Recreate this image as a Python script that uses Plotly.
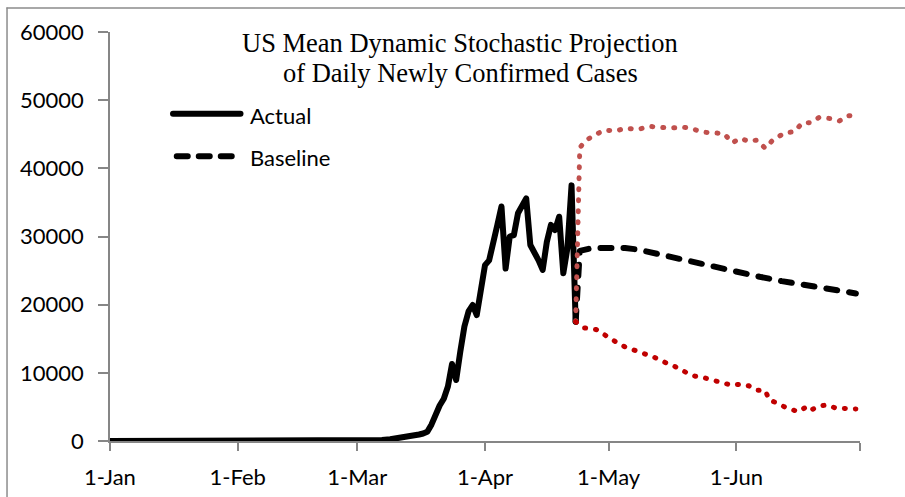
import plotly.graph_objects as go

# ---- data -------------------------------------------------------------
actual_dates = [
    "2020-01-01", "2020-01-22", "2020-02-01", "2020-02-15", "2020-03-01",
    "2020-03-03", "2020-03-05", "2020-03-07", "2020-03-09", "2020-03-11",
    "2020-03-13", "2020-03-14", "2020-03-15", "2020-03-16", "2020-03-17",
    "2020-03-18", "2020-03-19", "2020-03-20", "2020-03-21", "2020-03-22",
    "2020-03-23", "2020-03-24", "2020-03-25", "2020-03-26", "2020-03-27",
    "2020-03-28", "2020-03-29", "2020-03-30", "2020-03-31", "2020-04-01",
    "2020-04-02", "2020-04-03", "2020-04-04", "2020-04-05", "2020-04-06",
    "2020-04-07", "2020-04-08", "2020-04-09", "2020-04-10", "2020-04-11",
    "2020-04-12", "2020-04-13", "2020-04-14", "2020-04-15", "2020-04-16",
    "2020-04-17", "2020-04-18", "2020-04-19", "2020-04-20", "2020-04-21",
    "2020-04-22", "2020-04-23",
]
actual_cases = [
    0, 1, 1, 2, 20,
    50, 80, 150, 250, 400,
    550, 650, 800, 950, 1100,
    1350, 2400, 4100, 5200, 6200,
    8000, 11300, 8950, 13100, 16800,
    19000, 19950, 18480, 22150, 25800,
    26500, 28750, 31700, 34400, 25300,
    30000, 30200, 33400, 34400, 35600,
    28750, 27800, 26500, 25100, 29200,
    31700, 30950, 32900, 24600, 28300,
    37500, 17500,
]

baseline_dates = [
    "2020-04-23", "2020-04-24", "2020-04-27", "2020-05-01", "2020-05-05",
    "2020-05-08", "2020-05-13", "2020-05-18", "2020-05-23", "2020-05-28",
    "2020-06-02", "2020-06-07", "2020-06-12", "2020-06-17", "2020-06-22",
    "2020-06-27", "2020-06-30",
]
baseline_cases = [
    17500, 27900, 28300, 28400, 28300,
    28100, 27400, 26650, 26000, 25300,
    24600, 24050, 23450, 22900, 22400,
    21900, 21650,
]

upper_dates = [
    "2020-04-23", "2020-04-24", "2020-04-25", "2020-04-26", "2020-04-28",
    "2020-04-30", "2020-05-03", "2020-05-05", "2020-05-08", "2020-05-11",
    "2020-05-13", "2020-05-16", "2020-05-19", "2020-05-21", "2020-05-24",
    "2020-05-27", "2020-05-29", "2020-05-31", "2020-06-02", "2020-06-04",
    "2020-06-06", "2020-06-08", "2020-06-10", "2020-06-13", "2020-06-15",
    "2020-06-17", "2020-06-19", "2020-06-21", "2020-06-24", "2020-06-26",
    "2020-06-28", "2020-06-30",
]
upper_cases = [
    17500, 43000, 43800, 44300, 45000,
    45600, 45500, 45900, 45700, 46150,
    46050, 45900, 46050, 45850, 45300,
    45150, 45100, 43750, 44400, 43950,
    44150, 42950, 44250, 45250, 45350,
    46650, 46700, 47450, 47300, 46950,
    47700, 47800,
]

lower_dates = [
    "2020-04-23", "2020-04-25", "2020-04-28", "2020-04-30", "2020-05-03",
    "2020-05-05", "2020-05-08", "2020-05-10", "2020-05-12", "2020-05-15",
    "2020-05-17", "2020-05-20", "2020-05-22", "2020-05-24", "2020-05-26",
    "2020-05-29", "2020-05-31", "2020-06-02", "2020-06-04", "2020-06-06",
    "2020-06-08", "2020-06-09", "2020-06-11", "2020-06-13", "2020-06-16",
    "2020-06-18", "2020-06-19", "2020-06-21", "2020-06-23", "2020-06-25",
    "2020-06-28", "2020-06-30",
]
lower_cases = [
    17500, 16600, 16350, 15550, 14450,
    13800, 13200, 12850, 12300, 11450,
    10950, 10000, 9500, 9300, 9000,
    8400, 8150, 8350, 8100, 7450,
    7400, 6000, 5550, 4900, 4300,
    5000, 4500, 5100, 5300, 4850,
    4750, 4700,
]

month_ticks = ["2020-01-01", "2020-02-01", "2020-03-01", "2020-04-01",
               "2020-05-01", "2020-06-01", "2020-07-01"]
month_labels = ["1-Jan", "1-Feb", "1-Mar", "1-Apr", "1-May", "1-Jun", ""]
y_ticks = [0, 10000, 20000, 30000, 40000, 50000, 60000]
y_labels = ["0", "10000", "20000", "30000", "40000", "50000", "60000"]

title_lines = ["US Mean Dynamic Stochastic Projection",
               "of Daily Newly Confirmed Cases"]
legend_names = ["Actual", "Baseline"]

# ---- figure -----------------------------------------------------------
AXIS_GREY = "#868686"
LABEL_FONT = dict(family="Lato, 'Open Sans', Arial, sans-serif", size=22, color="#000000")

fig = go.Figure()
fig.add_trace(go.Scatter(x=actual_dates, y=actual_cases, mode="lines",
                         name=legend_names[0],
                         line=dict(color="#000000", width=6)))
fig.add_trace(go.Scatter(x=baseline_dates, y=baseline_cases, mode="lines",
                         name=legend_names[1],
                         line=dict(color="#000000", width=6, dash="11px,12px")))
fig.add_trace(go.Scatter(x=upper_dates, y=upper_cases, mode="lines",
                         name="Upper",
                         line=dict(color="#C0504D", width=5, dash="1px,10px")))
fig.add_trace(go.Scatter(x=lower_dates, y=lower_cases, mode="lines",
                         name="Lower",
                         line=dict(color="#C00000", width=5, dash="1px,10px")))

fig.update_layout(
    width=905, height=497,
    margin=dict(l=110, r=45, t=32, b=56, autoexpand=False),
    paper_bgcolor="#ffffff", plot_bgcolor="#ffffff",
    showlegend=False,
    hovermode=False,
)

fig.update_xaxes(
    type="date",
    range=["2020-01-01", "2020-07-01"],
    tickmode="array", tickvals=month_ticks, ticktext=month_labels,
    showline=True, linecolor=AXIS_GREY, linewidth=1.5,
    ticks="outside", ticklen=8, tickwidth=1.5, tickcolor=AXIS_GREY,
    ticklabelstandoff=8,
    tickfont=LABEL_FONT,
    showgrid=False, zeroline=False, automargin=False,
)
fig.update_yaxes(
    range=[0, 60000],
    tickmode="array", tickvals=y_ticks, ticktext=y_labels,
    showline=True, linecolor=AXIS_GREY, linewidth=1.5,
    ticks="outside", ticklen=10, tickwidth=1.5, tickcolor=AXIS_GREY,
    ticklabelstandoff=10,
    tickfont=LABEL_FONT,
    showgrid=False, zeroline=False, automargin=False,
)

# chart title (two centred lines, serif)
title_font = dict(family="'Liberation Serif', 'Times New Roman', serif", size=26.5, color="#000000")
for text, ypos in zip(title_lines, [0.9731, 0.8998]):
    fig.add_annotation(text=text, xref="paper", yref="paper", x=0.467, y=ypos,
                       xanchor="center", yanchor="middle", showarrow=False,
                       font=title_font)

# legend drawn inside the plot area
fig.add_shape(type="line", xref="paper", yref="paper",
              x0=0.084, x1=0.174, y0=0.8, y1=0.8,
              line=dict(color="#000000", width=6))
fig.add_shape(type="line", xref="paper", yref="paper",
              x0=0.089, x1=0.163, y0=0.696, y1=0.696,
              line=dict(color="#000000", width=6, dash="11px,11px"))
for text, ypos in zip(legend_names, [0.797, 0.694]):
    fig.add_annotation(text=text, xref="paper", yref="paper", x=0.184, y=ypos,
                       xanchor="left", yanchor="middle", showarrow=False,
                       font=LABEL_FONT)

# outer chart frame (top and left edges)
fig.add_shape(type="line", xref="paper", yref="paper",
              x0=-0.1373, x1=1.1, y0=1.0587, y1=1.0587,
              line=dict(color="#8c8c8c", width=1.5))
fig.add_shape(type="line", xref="paper", yref="paper",
              x0=-0.1373, x1=-0.1373, y0=1.0587, y1=-0.2,
              line=dict(color="#8c8c8c", width=1.5))

round_caps = """
document.querySelectorAll('.scatterlayer path.js-line').forEach(function(p){
  p.style.strokeLinecap = 'round'; p.style.strokeLinejoin = 'round';
});
document.querySelectorAll('.shapelayer path').forEach(function(p){
  p.style.strokeLinecap = 'round';
});
"""

fig.write_html("out.html", config={"displayModeBar": False}, post_script=round_caps)
